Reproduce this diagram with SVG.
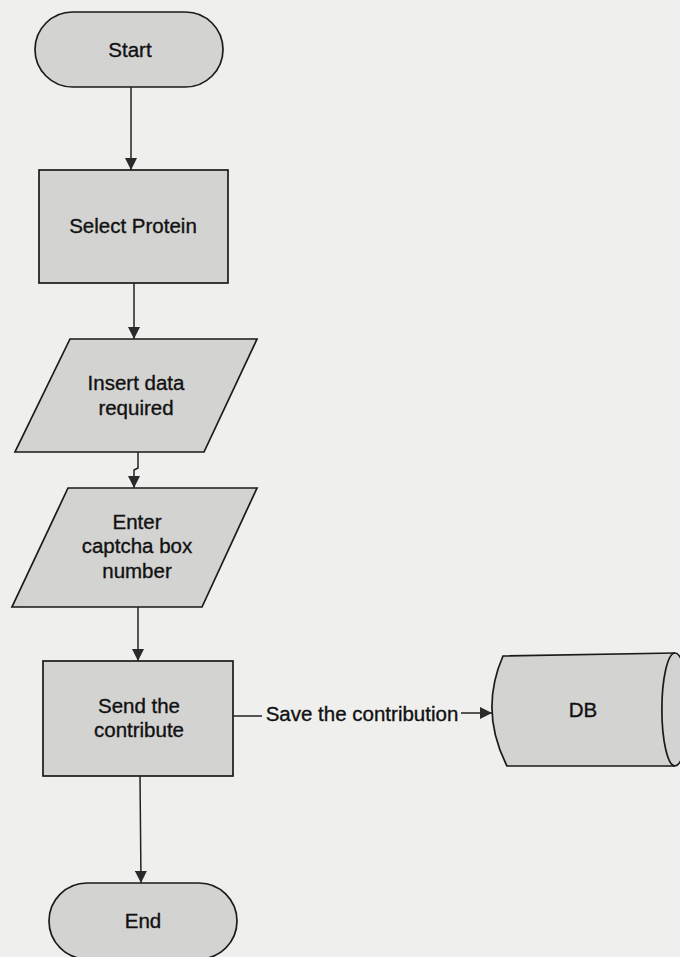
<svg xmlns="http://www.w3.org/2000/svg" width="680" height="957" viewBox="0 0 680 957">
<defs>
<style>
.shape{fill:#d3d3d1;stroke:#1a1a1a;stroke-width:1.7}
.lbl{font-family:"Liberation Sans",Arial,sans-serif;font-size:20.5px;fill:#111;stroke:#111;stroke-width:0.35;text-anchor:middle}
.edge{fill:none;stroke:#222;stroke-width:1.5}
</style>
<marker id="arr" viewBox="0 0 12 12" refX="12" refY="6" markerWidth="12" markerHeight="12" markerUnits="userSpaceOnUse" orient="auto">
<path d="M0,0 L12,6 L0,12 Z" fill="#2a2a2a"/>
</marker>
</defs>
<rect x="0" y="0" width="680" height="957" fill="#efefed"/>

<g id="start">
<rect class="shape" x="35" y="12" width="188" height="75" rx="37.5" ry="37.5"/>
<text class="lbl" x="130" y="57">Start</text>
</g>

<g id="select-protein">
<rect class="shape" x="39" y="170" width="189" height="113"/>
<text class="lbl" x="133" y="233">Select Protein</text>
</g>

<g id="insert-data">
<polygon class="shape" points="70,339 257,339 204,452 15,452"/>
<text class="lbl" x="136" y="390">Insert data</text>
<text class="lbl" x="136" y="415">required</text>
</g>

<g id="enter-captcha">
<polygon class="shape" points="68,488 257,488 202,607 12,607"/>
<text class="lbl" x="137" y="529">Enter</text>
<text class="lbl" x="137" y="553">captcha box</text>
<text class="lbl" x="137" y="578">number</text>
</g>

<g id="send-contribute">
<rect class="shape" x="43" y="661" width="190" height="115"/>
<text class="lbl" x="139" y="713">Send the</text>
<text class="lbl" x="139" y="737">contribute</text>
</g>

<g id="end">
<rect class="shape" x="49" y="883" width="188" height="76" rx="38" ry="38"/>
<text class="lbl" x="143" y="928">End</text>
</g>

<g id="db">
<path class="shape" d="M503,656 L675,653 A13,56 0 0 1 675,766 L507,766 Q479,711 503,656 Z"/>
<path class="edge" style="stroke:#1a1a1a;stroke-width:1.7" d="M675,653 A13,56 0 0 0 675,766"/>
<text class="lbl" x="583" y="717">DB</text>
</g>

<g id="connectors">
<path class="edge" d="M131,87 L131,170" marker-end="url(#arr)"/>
<path class="edge" d="M134,283 L134,339" marker-end="url(#arr)"/>
<path class="edge" d="M138,452 L138,468 L134,470 L134,488" marker-end="url(#arr)"/>
<path class="edge" d="M138,607 L138,661" marker-end="url(#arr)"/>
<path class="edge" d="M140,776 L141,883" marker-end="url(#arr)"/>
<path class="edge" d="M233,716 L262,716"/>
<path class="edge" d="M461,713 L492,713" marker-end="url(#arr)"/>
<text class="lbl" x="362" y="721">Save the contribution</text>
</g>
</svg>
